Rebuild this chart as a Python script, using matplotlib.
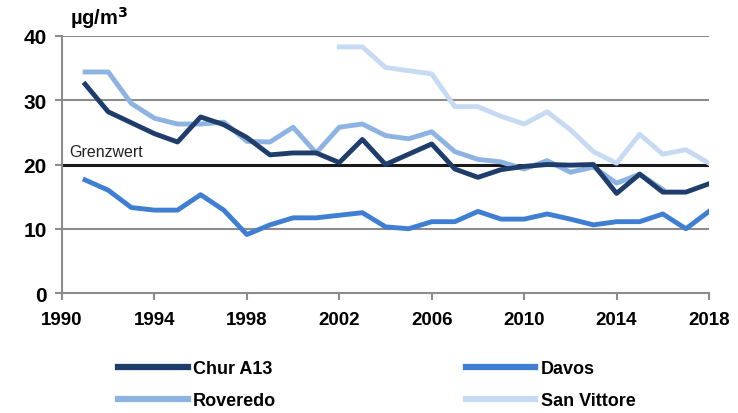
import numpy as np
import matplotlib.pyplot as plt

years = np.arange(1991, 2019)

chur = [32.5, 28.2, 26.5, 24.8, 23.5, 27.4, 26.2, 24.2, 21.5, 21.8,
        21.8, 20.3, 23.9, 20.0, 21.6, 23.2, 19.3, 18.0, 19.2, 19.7,
        20.0, 19.9, 20.0, 15.5, 18.5, 15.7, 15.7, 17.0]
davos = [17.6, 16.0, 13.3, 12.9, 12.9, 15.3, 12.9, 9.1, 10.6, 11.7,
         11.7, 12.1, 12.5, 10.3, 10.0, 11.1, 11.1, 12.7, 11.5, 11.5,
         12.3, 11.5, 10.6, 11.1, 11.1, 12.3, 10.0, 12.7]
roveredo_years = np.arange(1991, 2017)
roveredo = [34.4, 34.4, 29.5, 27.2, 26.3, 26.3, 26.6, 23.6, 23.5, 25.8,
            21.8, 25.8, 26.3, 24.5, 24.0, 25.1, 22.0, 20.8, 20.4, 19.3,
            20.6, 18.8, 19.6, 17.1, 18.5, 16.1]
sanvittore_years = np.arange(2002, 2019)
sanvittore = [38.3, 38.3, 35.1, 34.6, 34.1, 29.0, 29.0, 27.5, 26.3, 28.2,
              25.4, 22.0, 20.2, 24.7, 21.6, 22.3, 20.2]

grenzwert = 20
xticks = np.arange(1990, 2019, 4)
yticks = [0, 10, 20, 30, 40]

plt.rcParams['font.family'] = ['Liberation Sans', 'DejaVu Sans']

fig = plt.figure(figsize=(7.38, 4.14), dpi=100)
ax = fig.add_axes([62 / 738, 1 - 294 / 414, (709 - 62) / 738, (294 - 37) / 414])

grid_col = '#8c8c8c'
for y in yticks[1:]:
    if y != grenzwert:
        ax.axhline(y, color=grid_col, lw=1.5, zorder=1)
ax.axhline(grenzwert, color='#1a1a1a', lw=2.2, zorder=1)
ax.text(1990.3, grenzwert + 0.9, 'Grenzwert', fontsize=11.5, color='#222222', va='bottom')

ax.plot(sanvittore_years, sanvittore, color='#c6dbf3', lw=3.5, label='San Vittore', zorder=2)
ax.plot(roveredo_years, roveredo, color='#8db3e2', lw=3.5, label='Roveredo', zorder=3)
ax.plot(years, davos, color='#3e7fd4', lw=3.5, label='Davos', zorder=4)
ax.plot(years, chur, color='#1f3d6b', lw=3.5, label='Chur A13', zorder=5)

ax.set_xlim(1990, 2018)
ax.set_ylim(0, 40)
ax.set_xticks(xticks)
ax.set_yticks(yticks)
ax.tick_params(axis='both', colors=grid_col, labelcolor='black', width=1.5, length=5)
ax.tick_params(axis='x', pad=8, labelsize=13.5)
ax.tick_params(axis='y', pad=6, labelsize=15)
for lab in ax.get_xticklabels() + ax.get_yticklabels():
    lab.set_fontweight('bold')
for s in ['top', 'right']:
    ax.spines[s].set_visible(False)
for s in ['left', 'bottom']:
    ax.spines[s].set_color(grid_col)
    ax.spines[s].set_linewidth(1.5)
ax.set_facecolor('none')

fig.text(70 / 738, 1 - 18 / 414, 'µg/m$^\\mathbf{3}$', fontsize=14.5, fontweight='bold', va='center')

handles, labels = ax.get_legend_handles_labels()
order = ['Chur A13', 'Roveredo', 'Davos', 'San Vittore']
hmap = dict(zip(labels, handles))
leg = fig.legend([hmap[k] for k in order], order, loc='upper left',
                 bbox_to_anchor=(118 / 738, 1 - 361 / 414), ncol=2, frameon=False,
                 fontsize=13, handlelength=3.85, handletextpad=0.3,
                 columnspacing=10.5, labelspacing=0.85, borderpad=0, borderaxespad=0)
for t in leg.get_texts():
    t.set_fontweight('bold')
for h in leg.legend_handles:
    h.set_linewidth(4.5)

fig.savefig('out.png', dpi=100)
